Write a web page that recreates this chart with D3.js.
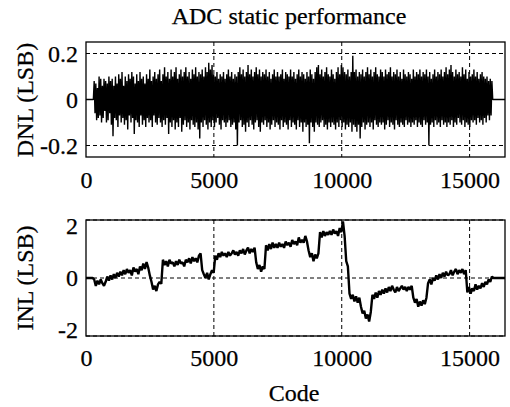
<!DOCTYPE html>
<html>
<head>
<meta charset="utf-8">
<script src="https://cdn.jsdelivr.net/npm/d3@7"></script>
<style>
  body { margin: 0; background: #fff; }
  svg text { font-family: "Liberation Serif", "Times New Roman", serif; fill: #000; stroke: #000; stroke-width: 0.25px; }
</style>
</head>
<body>
<svg id="chart" width="510" height="407"></svg>
<script>
// ADC codes 0 .. 16384; DNL read every 32 codes, INL every 64 codes
const codeMax = 16384;
const dnlStep = 32;
const inlStep = 64;
const xTicks = [0, 5000, 10000, 15000];
const dnlTicks = [-0.2, 0, 0.2];
const inlTicks = [-2, 0, 2];

// DNL (LSB)
const dnl = [
    0, 0, 0, 0, 0, 0, 0, 0, 0, 0,
    0.08,-0.06,0.07,-0.09,0.05,-0.08,0.10,-0.07,0.09,-0.10,0.06,-0.08,0.09,-0.05,0.08,-0.10,
    0.07,-0.09,0.10,-0.06,0.08,-0.11,0.09,-0.16,0.06,-0.08,0.10,-0.09,0.07,-0.12,0.11,-0.07,
    0.09,-0.10,0.12,-0.08,0.06,-0.11,0.10,-0.09,0.08,-0.13,0.11,-0.07,0.09,-0.10,0.12,-0.08,
    0.10,-0.15,0.07,-0.09,0.11,-0.10,0.08,-0.12,0.12,-0.07,0.09,-0.11,0.10,-0.09,0.07,-0.12,
    0.11,-0.08,0.09,-0.10,0.13,-0.09,0.08,-0.12,0.10,-0.07,0.12,-0.10,0.09,-0.11,0.11,-0.08,
    0.13,-0.10,0.08,-0.12,0.11,-0.09,0.14,-0.11,0.10,-0.08,0.12,-0.15,0.09,-0.10,0.13,-0.12,
    0.10,-0.09,0.12,-0.13,0.14,-0.10,0.09,-0.12,0.11,-0.08,0.13,-0.14,0.10,-0.11,0.12,-0.09,
    0.14,-0.12,0.10,-0.10,0.12,-0.13,0.09,-0.09,0.13,-0.11,0.11,-0.12,0.14,-0.10,0.10,-0.13,
    0.12,-0.17,0.11,-0.10,0.13,-0.12,0.10,-0.09,0.14,-0.11,0.12,-0.13,0.16,-0.10,0.13,-0.12,
    0.15,-0.09,0.11,-0.12,0.10,-0.10,0.12,-0.08,0.09,-0.11,0.11,-0.13,0.10,-0.09,0.12,-0.10,
    0.09,-0.12,0.11,-0.10,0.13,-0.09,0.10,-0.12,0.12,-0.11,0.09,-0.10,0.11,-0.13,0.10,-0.20,
    0.12,-0.10,0.14,-0.09,0.11,-0.12,0.13,-0.11,0.10,-0.14,0.12,-0.10,0.15,-0.12,0.11,-0.09,
    0.13,-0.11,0.10,-0.13,0.12,-0.10,0.14,-0.09,0.11,-0.12,0.13,-0.14,0.10,-0.10,0.12,-0.11,
    0.11,-0.09,0.13,-0.12,0.10,-0.10,0.12,-0.13,0.09,-0.11,0.11,-0.09,0.13,-0.12,0.10,-0.10,
    0.12,-0.11,0.10,-0.13,0.11,-0.09,0.13,-0.12,0.09,-0.10,0.12,-0.11,0.11,-0.13,0.10,-0.09,
    0.13,-0.12,0.10,-0.10,0.12,-0.11,0.09,-0.13,0.11,-0.09,0.13,-0.12,0.10,-0.10,0.12,-0.14,
    0.11,-0.10,0.09,-0.12,0.12,-0.11,0.10,-0.19,0.13,-0.10,0.11,-0.12,0.09,-0.14,0.12,-0.10,
    0.14,-0.11,0.15,-0.12,0.11,-0.10,0.13,-0.09,0.10,-0.12,0.12,-0.11,0.14,-0.13,0.11,-0.10,
    0.10,-0.12,0.13,-0.10,0.11,-0.11,0.09,-0.13,0.12,-0.10,0.14,-0.12,0.11,-0.09,0.15,-0.12,
    0.14,-0.10,0.12,-0.13,0.11,-0.11,0.13,-0.12,0.10,-0.10,0.12,-0.14,0.19,-0.11,0.12,-0.12,
    0.13,-0.14,0.10,-0.11,0.12,-0.17,0.11,-0.12,0.13,-0.10,0.10,-0.13,0.12,-0.11,0.14,-0.10,
    0.11,-0.12,0.13,-0.10,0.10,-0.13,0.12,-0.09,0.14,-0.11,0.11,-0.12,0.10,-0.10,0.13,-0.11,
    0.12,-0.10,0.10,-0.13,0.13,-0.11,0.11,-0.09,0.12,-0.12,0.14,-0.10,0.10,-0.11,0.12,-0.13,
    0.11,-0.09,0.13,-0.11,0.10,-0.12,0.12,-0.10,0.09,-0.11,0.13,-0.12,0.11,-0.09,0.10,-0.11,
    0.12,-0.10,0.11,-0.12,0.09,-0.10,0.13,-0.11,0.10,-0.09,0.12,-0.12,0.11,-0.10,0.13,-0.11,
    0.10,-0.12,0.12,-0.09,0.11,-0.11,0.13,-0.10,0.10,-0.20,0.12,-0.11,0.09,-0.10,0.11,-0.12,
    0.13,-0.09,0.10,-0.11,0.12,-0.10,0.11,-0.12,0.13,-0.09,0.10,-0.11,0.12,-0.10,0.14,-0.12,
    0.11,-0.10,0.13,-0.11,0.15,-0.09,0.12,-0.12,0.10,-0.10,0.13,-0.11,0.11,-0.08,0.12,-0.10,
    0.10,-0.11,0.14,-0.09,0.11,-0.12,0.13,-0.10,0.09,-0.11,0.12,-0.12,0.10,-0.09,0.11,-0.10,
    0.13,-0.09,0.10,-0.11,0.12,-0.08,0.09,-0.10,0.11,-0.09,0.12,-0.11,0.10,-0.08,0.09,-0.10,
    0.10,-0.07,0.08,-0.09,0.09,-0.07,0.08,
    0, 0, 0, 0, 0, 0, 0, 0, 0, 0, 0, 0, 0, 0, 0, 0
];

// INL (LSB)
const inl = [
    0, 0, 0, 0, 0,
    -0.05,-0.27,-0.09,-0.22,-0.05,-0.18,-0.27,-0.13,0.05,-0.09,0.09,-0.05,0.13,0.00,0.18,0.05,
    0.22,0.09,0.27,0.13,0.31,0.18,0.27,0.09,0.36,0.22,0.31,0.13,0.40,0.27,0.50,0.31,
    0.55,0.36,0.09,-0.13,-0.40,-0.27,-0.45,-0.22,-0.13,-0.20,0.63,0.45,0.58,0.40,0.63,0.50,
    0.54,0.40,0.58,0.45,0.63,0.50,0.54,0.40,0.63,0.54,0.68,0.50,0.72,0.58,0.68,0.54,
    0.77,0.85,0.27,0.13,0.00,0.18,-0.05,0.13,0.27,0.18,0.77,0.63,0.85,0.72,0.90,0.77,
    0.85,0.72,0.90,0.77,0.85,0.95,0.81,0.90,0.77,0.95,0.85,1.00,0.81,0.95,1.05,0.85,
    1.00,0.90,1.05,0.54,0.31,0.45,0.22,0.40,0.31,1.13,0.95,1.17,1.00,1.22,1.04,1.17,
    1.04,1.22,1.08,1.17,1.04,1.26,1.13,1.22,1.08,1.31,1.17,1.26,1.13,1.40,1.22,1.31,
    1.22,1.45,1.26,0.95,0.72,0.85,0.58,0.81,0.68,0.85,1.58,1.40,1.62,1.45,1.58,1.49,
    1.62,1.49,1.67,1.53,1.62,1.45,1.72,1.58,1.95,1.45,0.58,0.40,-0.54,-0.72,-0.58,-0.81,
    -0.63,-0.85,-0.68,-0.99,-1.22,-1.13,-1.40,-1.26,-1.50,-1.17,-0.58,-0.72,-0.50,-0.68,-0.45,-0.58,
    -0.40,-0.54,-0.36,-0.50,-0.31,-0.45,-0.27,-0.40,-0.50,-0.31,-0.45,-0.36,-0.27,-0.40,-0.31,-0.45,
    -0.31,-0.40,-0.27,-0.68,-0.85,-0.72,-0.99,-0.81,-0.95,-0.77,-0.90,-0.68,-0.18,-0.05,-0.22,0.00,
    -0.09,0.09,-0.05,0.13,0.00,0.18,0.05,0.22,0.09,0.13,0.27,0.09,0.22,0.31,0.13,0.27,
    0.18,0.31,0.13,0.27,-0.50,-0.31,-0.54,-0.36,-0.45,-0.22,-0.40,-0.27,-0.36,-0.18,-0.31,-0.13,
    -0.22,-0.05,-0.13,0.05,
    0, 0, 0, 0, 0, 0, 0, 0
];

const svg = d3.select('#chart');

const frame = {
    "left": 86,
    "right": 505,
    "dnlTop": 42,
    "dnlBottom": 157,
    "inlTop": 220,
    "inlBottom": 336
};

const x = d3.scaleLinear()
    .domain([0, codeMax])
    .range([frame.left, frame.right]);

const dnlY = d3.scaleLinear()
    .domain([-0.25, 0.25])
    .range([frame.dnlBottom, frame.dnlTop]);

const inlY = d3.scaleLinear()
    .domain([-2, 2])
    .range([frame.inlBottom, frame.inlTop]);

function drawPanel(values, step, y, yTicks, top, bottom, strokeWidth, xPad, edgeShift) {
    let g = svg.append('g');

    // dashed grid
    g.selectAll('.vgrid')
        .data(xTicks.filter(d => d > 0))
        .join('line')
            .attr('x1', d => x(d)).attr('x2', d => x(d))
            .attr('y1', top).attr('y2', bottom)
            .attr('stroke', '#000')
            .attr('stroke-width', 1)
            .attr('stroke-dasharray', '4,3');

    g.selectAll('.hgrid')
        .data(yTicks)
        .join('line')
            .attr('x1', frame.left).attr('x2', frame.right)
            .attr('y1', d => y(d)).attr('y2', d => y(d))
            .attr('stroke', '#000')
            .attr('stroke-width', 1)
            .attr('stroke-dasharray', '4,3');

    // data
    let line = d3.line()
        .x((d, i) => x(i * step))
        .y(d => y(d));

    g.append('path')
        .datum(values)
        .attr('d', line)
        .attr('fill', 'none')
        .attr('stroke', '#000')
        .attr('stroke-width', strokeWidth)
        .attr('stroke-linejoin', 'bevel');

    // frame
    g.append('rect')
        .attr('x', frame.left)
        .attr('y', top)
        .attr('width', frame.right - frame.left)
        .attr('height', bottom - top)
        .attr('fill', 'none')
        .attr('stroke', '#000')
        .attr('stroke-width', 1.3);

    // axes
    let yAxis = d3.axisLeft(y)
        .tickValues(yTicks)
        .tickSize(0)
        .tickPadding(8)
        .tickFormat(d => String(d));

    let yg = g.append('g')
        .attr('transform', `translate(${frame.left},0)`)
        .call(yAxis)
        .call(a => a.select('.domain').remove());

    yg.selectAll('text')
        .style('font-size', '24px')
        .style('font-family', '"Liberation Serif", serif')
        .attr('y', (d, i) => i === 0 ? -edgeShift : (i === yTicks.length - 1 ? edgeShift : 0));

    let xAxis = d3.axisBottom(x)
        .tickValues(xTicks)
        .tickSize(0)
        .tickPadding(xPad)
        .tickFormat(d => String(d));

    g.append('g')
        .attr('transform', `translate(0,${bottom})`)
        .call(xAxis)
        .call(a => a.select('.domain').remove())
        .selectAll('text')
            .style('font-size', '24px')
            .style('font-family', '"Liberation Serif", serif');

    return g;
}

drawPanel(dnl, dnlStep, dnlY, dnlTicks, frame.dnlTop, frame.dnlBottom, 1.4, 14, 0);
drawPanel(inl, inlStep, inlY, inlTicks, frame.inlTop, frame.inlBottom, 2.4, 13, 6);

// titles and labels
svg.append('text')
    .attr('x', 289)
    .attr('y', 24)
    .attr('text-anchor', 'middle')
    .style('font-size', '24px')
    .text('ADC static performance');

svg.append('text')
    .attr('transform', 'translate(33,100) rotate(-90)')
    .attr('text-anchor', 'middle')
    .style('font-size', '24px')
    .text('DNL (LSB)');

svg.append('text')
    .attr('transform', 'translate(33,278) rotate(-90)')
    .attr('text-anchor', 'middle')
    .style('font-size', '24px')
    .text('INL (LSB)');

svg.append('text')
    .attr('x', 294)
    .attr('y', 401)
    .attr('text-anchor', 'middle')
    .style('font-size', '24px')
    .text('Code');
</script>
</body>
</html>
